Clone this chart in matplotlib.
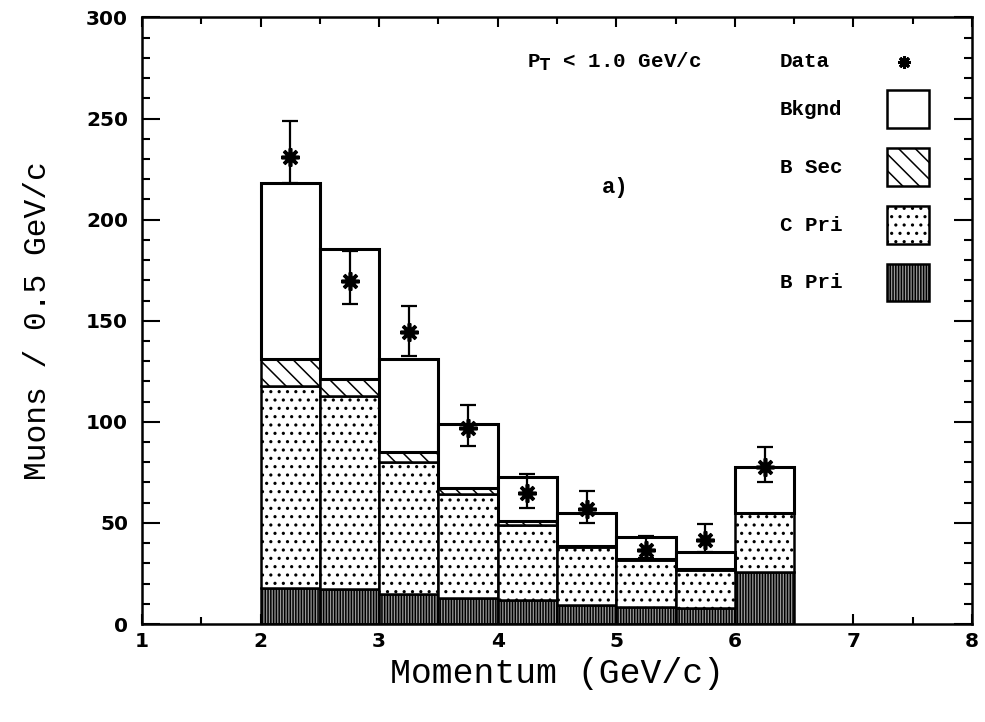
import matplotlib
matplotlib.use("Agg")
import matplotlib.pyplot as plt
import numpy as np
from matplotlib.patches import Rectangle

# ---- data ----
bin_left = [2.0, 2.5, 3.0, 3.5, 4.0, 4.5, 5.0, 5.5, 6.0]
bin_width = 0.5
b_pri = [18.0, 17.3, 15.0, 12.7, 11.9, 9.4, 8.6, 7.8, 25.6]
c_pri = [99.9, 95.6, 65.3, 51.4, 37.1, 28.8, 23.1, 18.9, 29.1]
b_sec = [13.0, 8.3, 4.9, 3.0, 1.9, 0.5, 0.4, 0.3, 0.3]
bkgnd = [87.1, 64.1, 45.7, 31.8, 22.0, 16.4, 11.1, 8.5, 22.6]
data_y = [231.1, 169.8, 144.3, 96.8, 64.6, 56.7, 36.6, 41.5, 77.5]
err_up = [17.5, 14.8, 13.1, 11.4, 9.7, 9.1, 7.1, 8.0, 10.2]
err_dn = [13.1, 11.5, 11.6, 8.6, 7.1, 6.6, 4.1, 5.7, 7.4]

labels = ["Bkgnd", "B Sec", "C Pri", "B Pri"]

plt.rcParams['hatch.linewidth'] = 1.1
fig = plt.figure(figsize=(9.85, 7.22), dpi=100)
ax = fig.add_axes([0.1442, 0.1357, 0.8426, 0.8401])

x = np.array(bin_left) + bin_width / 2
bp = np.array(b_pri); cp = np.array(c_pri); bs = np.array(b_sec); bk = np.array(bkgnd)

styles = {
    "B Pri": dict(facecolor="#999999", hatch="||||||"),
    "C Pri": dict(facecolor="white", hatch=".."),
    "B Sec": dict(facecolor="white", hatch="\\\\"),
    "Bkgnd": dict(facecolor="white", hatch=None),
}

ax.bar(x, bp, width=bin_width, bottom=0, edgecolor="black", linewidth=1.8, **styles["B Pri"], zorder=2)
ax.bar(x, cp, width=bin_width, bottom=bp, edgecolor="black", linewidth=1.8, **styles["C Pri"], zorder=2)
ax.bar(x, bs, width=bin_width, bottom=bp + cp, edgecolor="black", linewidth=1.8, **styles["B Sec"], zorder=2)
ax.bar(x, bk, width=bin_width, bottom=bp + cp + bs, edgecolor="black", linewidth=2.2, **styles["Bkgnd"], zorder=2)

ax.errorbar(x, data_y, yerr=[err_dn, err_up], fmt="none", ecolor="black",
            elinewidth=1.6, capsize=6, capthick=1.6, zorder=4)
ax.plot(x, data_y, linestyle="none", marker=(8, 2, 0), markersize=13,
        markeredgewidth=2.6, color="black", zorder=5)

ax.set_xlim(1, 8)
ax.set_ylim(0, 300)
ax.set_xticks(np.arange(1, 9, 1))
ax.set_xticks(np.arange(1.5, 8, 1), minor=True)
ax.set_yticks(np.arange(0, 301, 50))
ax.set_yticks(np.arange(0, 301, 10), minor=True)
ax.tick_params(which="both", direction="in", top=True, right=True, width=1.5, colors="black")
ax.tick_params(which="major", length=13)
ax.tick_params(which="minor", length=6)
ax.tick_params(axis="x", which="major", length=7)
ax.tick_params(axis="x", which="minor", length=5)
ax.tick_params(axis="x", pad=6)
ax.tick_params(axis="y", pad=10)
for sp in ax.spines.values():
    sp.set_linewidth(1.8)

for lab in ax.get_xticklabels() + ax.get_yticklabels():
    lab.set_fontfamily("DejaVu Sans")
    lab.set_fontweight("bold")
    lab.set_fontsize(14.5)

ax.set_xlabel("Momentum (GeV/c)", fontdict=dict(family="Liberation Mono", size=25), labelpad=4)
ax.set_ylabel("Muons / 0.5 GeV/c", fontdict=dict(family="Liberation Mono", size=22.5), labelpad=24)

txtfont = dict(family="Liberation Mono", weight="bold", size=15)
ax.text(4.25, 278, r"P$_{\mathbf{T}}$ < 1.0 GeV/c", fontdict=txtfont, va="center", ha="left")
ax.text(4.88, 216, "a)", fontdict=dict(family="Liberation Mono", weight="bold", size=16), va="center", ha="left")

# legend
ax.text(6.38, 278, "Data", fontdict=txtfont, va="center", ha="left")
ax.plot([7.43], [278], marker=(8, 2, 0), markersize=9, markeredgewidth=2.2, color="black", clip_on=False)
rows_y = [254.7, 226.0, 197.3, 169.0]
for lab, yc in zip(labels, rows_y):
    ax.text(6.38, yc, lab, fontdict=txtfont, va="center", ha="left")
    st = styles[lab]
    r = Rectangle((7.28, yc - 9.3), 0.36, 18.6, facecolor=st["facecolor"], hatch=st["hatch"],
                  edgecolor="black", linewidth=1.8, zorder=3)
    ax.add_patch(r)

fig.savefig("out.png", dpi=100)
